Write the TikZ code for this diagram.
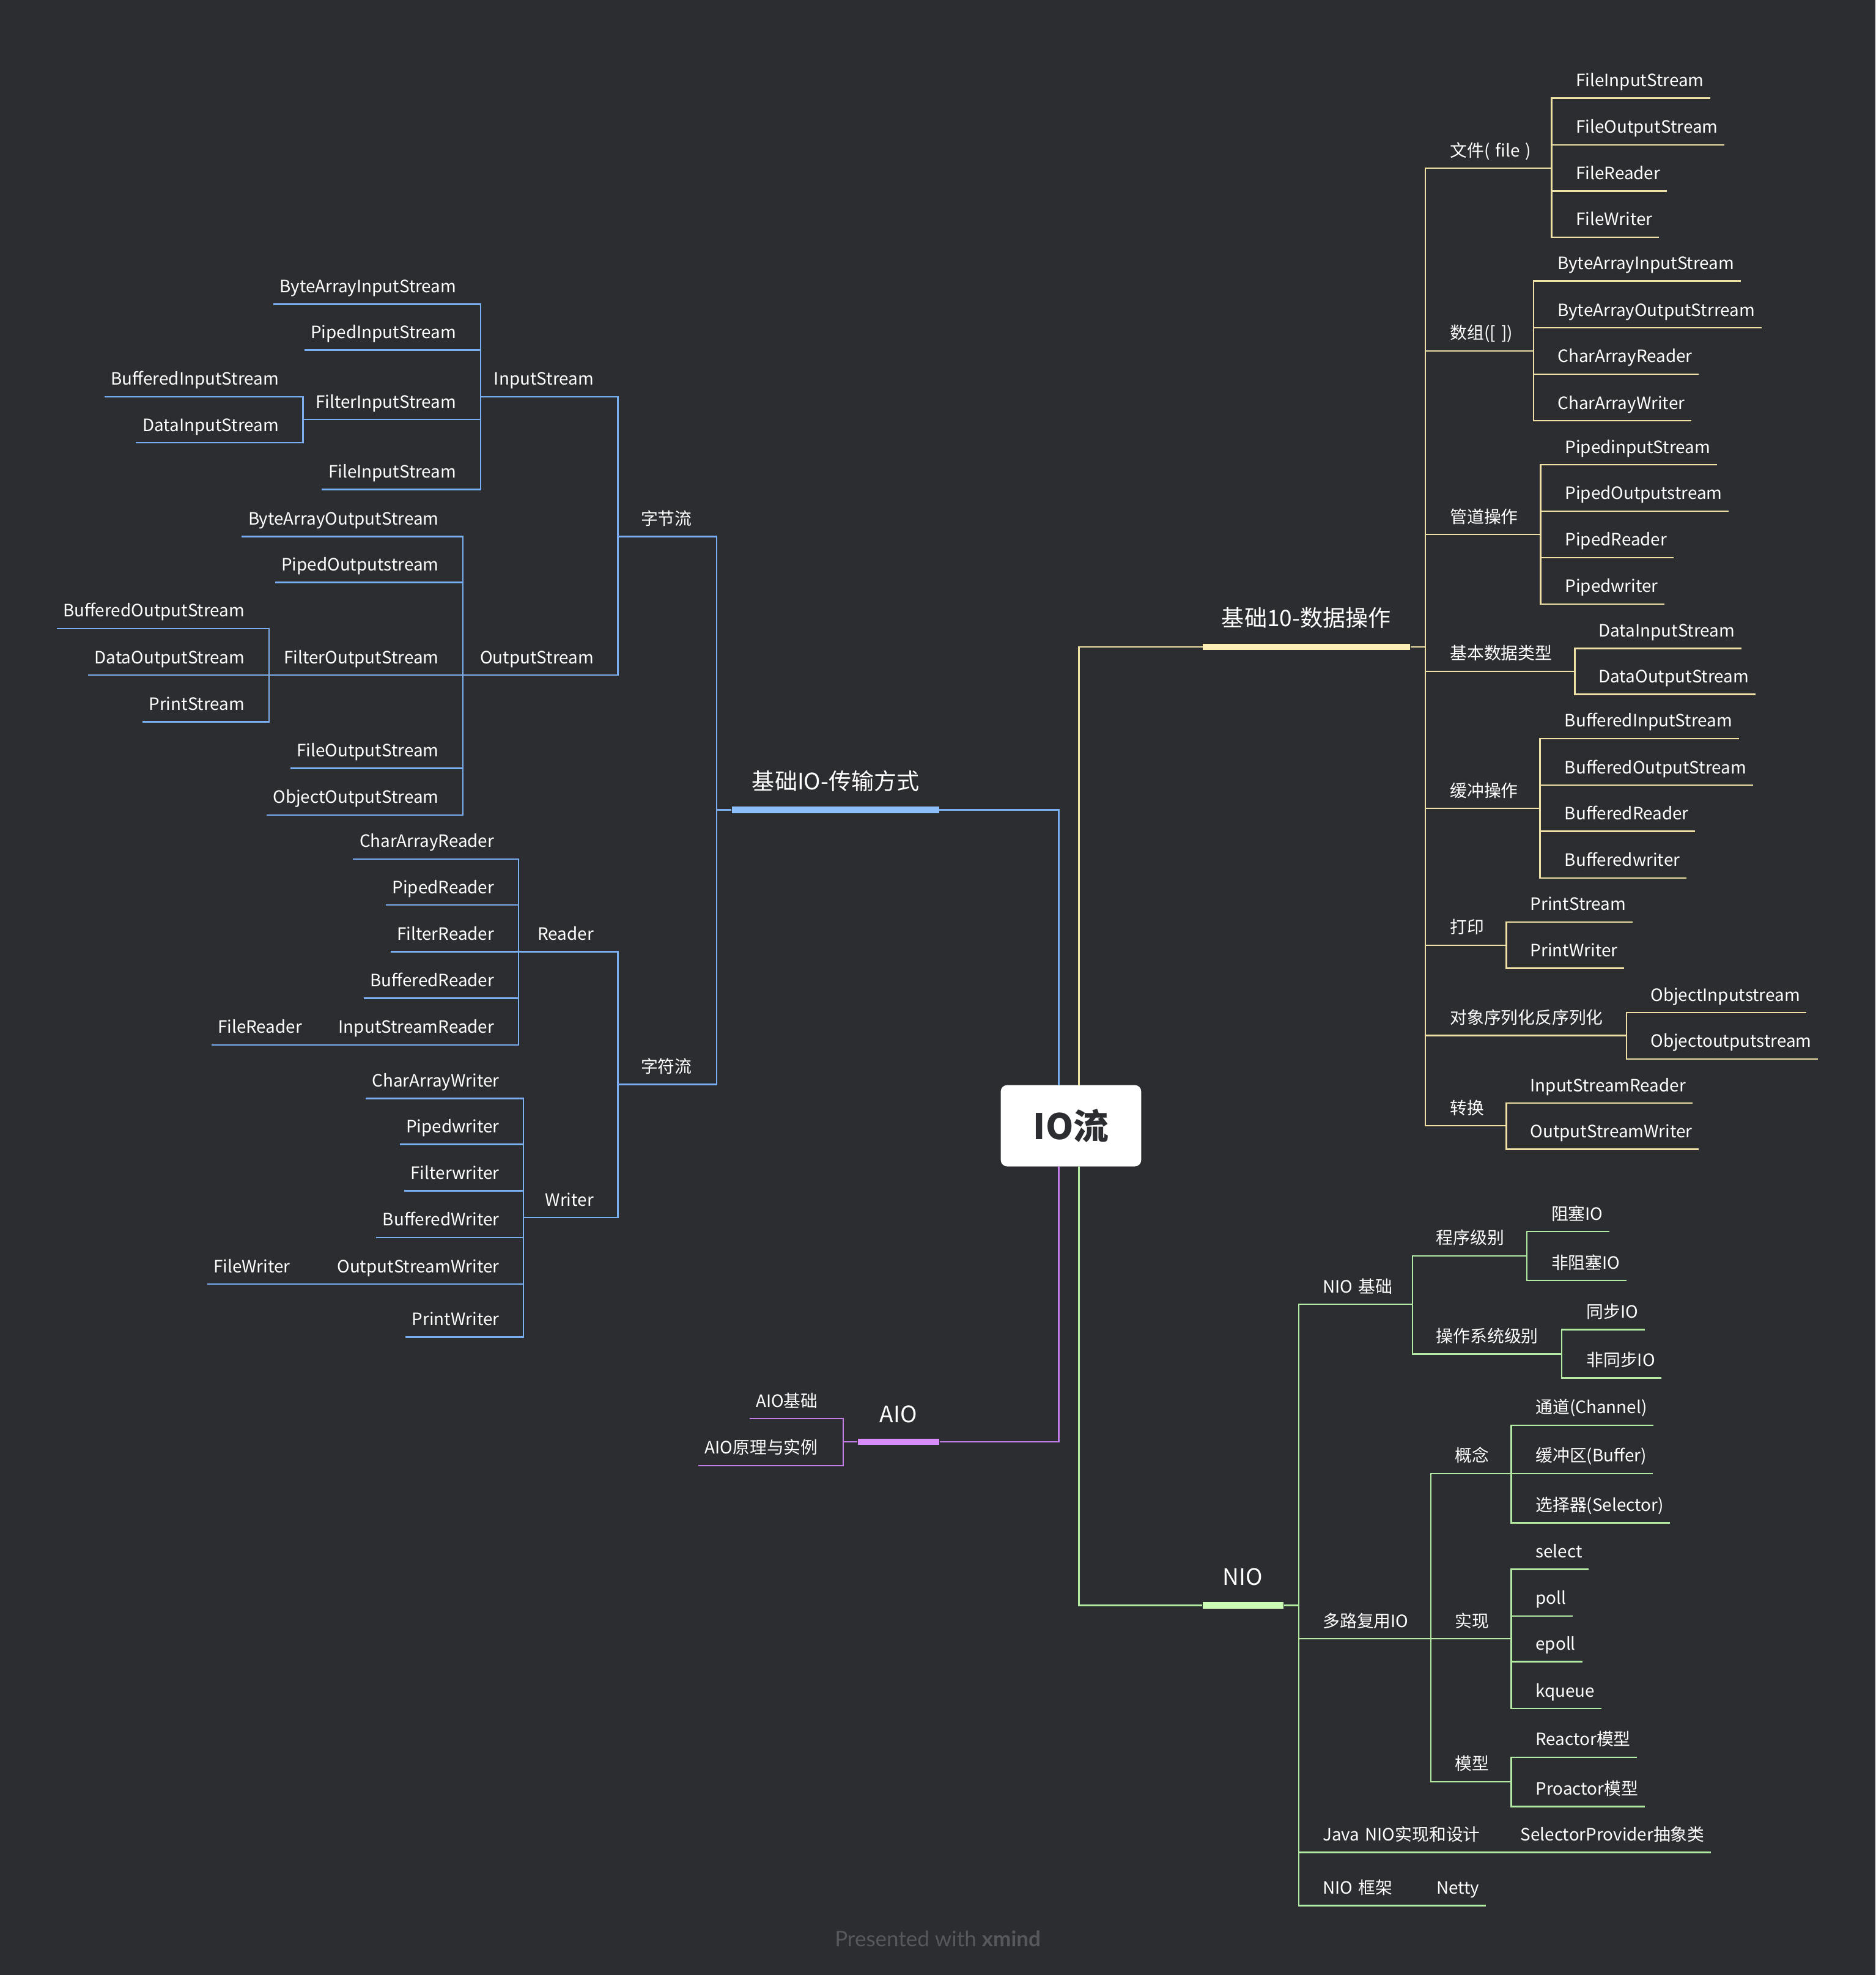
\documentclass[tikz,border=0pt]{standalone}
\usepackage{fontspec}
\setmainfont{Noto Sans CJK SC}
\newfontfamily\footfont{Lato}
\definecolor{bgc}{HTML}{2C2D31}
\definecolor{cblue}{HTML}{7AAEF0}
\definecolor{bbar}{HTML}{8CBEFA}
\definecolor{cyel}{HTML}{EFE1A6}
\definecolor{ybar}{HTML}{FFEFB3}
\definecolor{cpur}{HTML}{C37DE8}
\definecolor{pbar}{HTML}{D88CF7}
\definecolor{cgrn}{HTML}{B4EBA4}
\definecolor{gbar}{HTML}{C9FBB4}
\definecolor{footc}{HTML}{56585C}
\tikzset{
  lab/.style={text=white, font=\fontsize{13.5}{16}\selectfont, text depth=0pt, inner ysep=9pt, inner xsep=0pt},
  rleaf/.style={lab, anchor=south west, inner xsep=5pt},
  lleaf/.style={lab, anchor=south east, inner xsep=5pt},
  rtopic/.style={lab, anchor=south west, align=left, text width=#1},
  ltopic/.style={lab, anchor=south east, align=right, text width=#1},
  maintopic/.style={text=white, font=\fontsize{18}{20}\selectfont, anchor=base, inner sep=0pt},
  hbar/.style={minimum height=5pt, inner sep=0pt, minimum width=#1},
  centertopic/.style={fill=white, rounded corners=5pt, minimum width=111.5pt, minimum height=64.5pt, inner sep=0pt, text=bgc, font=\bfseries\fontsize{28}{30}\selectfont},
  bl/.style={draw=cblue, line width=1.2pt},
  yl/.style={draw=cyel, line width=1.2pt},
  pl/.style={draw=cpur, line width=1.2pt},
  gl/.style={draw=cgrn, line width=1.2pt},
}
\begin{document}
\begin{tikzpicture}[x=1pt,y=-1pt]
\fill[bgc] (0,0) rectangle (1489,1568);

% ---------- centre ----------
\node[centertopic] (ctr) at (850.25,893.75) {IO流};
\coordinate (cbt) at (840.5,861.5);
\coordinate (cyt) at (856.5,861.5);
\coordinate (cpb) at (840.5,926);
\coordinate (cgb) at (856.5,926);

% ---------- blue: 基础IO-传输方式 ----------
\coordinate (bioL) at (569,643);
\node[hbar=164.5pt, fill=bbar] (bioBar) at (663.25,643) {};
\node[maintopic] (bio) at (663.5,627) {基础IO-传输方式};

\node[ltopic=58.5pt] (zjl) at (549.5,426) {字节流};
\node[ltopic=58.5pt] (zfl) at (549.5,861) {字符流};
\node[ltopic=89.5pt] (is) at (471.5,315) {InputStream};
\node[ltopic=103.5pt] (os) at (471.5,536) {OutputStream};

\node[lleaf] (is1) at (367.5,241.5) {ByteArrayInputStream};
\node[lleaf] (is2) at (367.5,278) {PipedInputStream};
\node[ltopic=121.5pt] (is3) at (362.5,333) {FilterInputStream};
\node[lleaf] (is4) at (367.5,388.5) {FileInputStream};
\node[lleaf] (is31) at (226.5,315) {BufferedInputStream};
\node[lleaf] (is32) at (226.5,351.5) {DataInputStream};

\node[lleaf] (os1) at (353.5,426) {ByteArrayOutputStream};
\node[lleaf] (os2) at (353.5,462.5) {PipedOutputstream};
\node[ltopic=134.5pt] (os3) at (348.5,536) {FilterOutputStream};
\node[lleaf] (os4) at (353.5,610) {FileOutputStream};
\node[lleaf] (os5) at (353.5,647) {ObjectOutputStream};
\node[lleaf] (os31) at (199.5,499) {BufferedOutputStream};
\node[lleaf] (os32) at (199.5,536) {DataOutputStream};
\node[lleaf] (os33) at (199.5,573) {PrintStream};

\node[ltopic=59.5pt] (rd) at (471.5,755.5) {Reader};
\node[lleaf] (rd1) at (397.5,682) {CharArrayReader};
\node[lleaf] (rd2) at (397.5,718.5) {PipedReader};
\node[lleaf] (rd3) at (397.5,755.5) {FilterReader};
\node[lleaf] (rd4) at (397.5,792.5) {BufferedReader};
\node[ltopic=132.5pt] (rd5) at (392.5,829.5) {InputStreamReader};
\node[lleaf] (rd51) at (245,829.5) {FileReader};

\node[ltopic=55.5pt] (wr) at (471.5,966.5) {Writer};
\node[lleaf] (wr1) at (401.5,872) {CharArrayWriter};
\node[lleaf] (wr2) at (401.5,908.5) {Pipedwriter};
\node[lleaf] (wr3) at (401.5,945.5) {Filterwriter};
\node[lleaf] (wr4) at (401.5,982.5) {BufferedWriter};
\node[ltopic=146.5pt] (wr5) at (396.5,1019.5) {OutputStreamWriter};
\node[lleaf] (wr51) at (235.5,1019.5) {FileWriter};
\node[lleaf] (wr6) at (401.5,1061.5) {PrintWriter};

\draw[bl] (cbt) |- (bioBar.east);
\draw[bl] (bioBar.west) -- (bioL);
\foreach \c in {zjl,zfl} \draw[bl] (\c.south west) -| (bioL);
\foreach \c in {is,os} \draw[bl] (\c.south west) -| (zjl.south west);
\foreach \c in {rd,wr} \draw[bl] (\c.south west) -| (zfl.south west);
\foreach \c in {is1,is2,is3,is4} \draw[bl] (\c.south west) -| (is.south west);
\foreach \c in {is31,is32} \draw[bl] (\c.south west) -| (is3.south west);
\foreach \c in {os1,os2,os3,os4,os5} \draw[bl] (\c.south west) -| (os.south west);
\foreach \c in {os31,os32,os33} \draw[bl] (\c.south west) -| (os3.south west);
\foreach \c in {rd1,rd2,rd3,rd4,rd5} \draw[bl] (\c.south west) -| (rd.south west);
\draw[bl] (rd51.south west) -| (rd5.south west);
\foreach \c in {wr1,wr2,wr3,wr4,wr5,wr6} \draw[bl] (\c.south west) -| (wr.south west);
\draw[bl] (wr51.south west) -| (wr5.south west);

% ---------- yellow: 基础10-数据操作 ----------
\coordinate (dmR) at (1131.5,513.5);
\node[hbar=164.5pt, fill=ybar] (dmBar) at (1037.25,513.5) {};
\node[maintopic] (dm) at (1037,497.5) {基础10-数据操作};

\node[rtopic=80.3pt] (f) at (1151,133.5) {文件( file )};
\node[rleaf] (f1) at (1246,78) {FileInputStream};
\node[rleaf] (f2) at (1246,115) {FileOutputStream};
\node[rleaf] (f3) at (1246,151.6) {FileReader};
\node[rleaf] (f4) at (1246,188.3) {FileWriter};

\node[rtopic=66pt] (a) at (1151,278.6) {数组([ ])};
\node[rleaf] (a1) at (1231.5,223) {ByteArrayInputStream};
\node[rleaf] (a2) at (1231.5,260.2) {ByteArrayOutputStrream};
\node[rleaf] (a3) at (1231.5,297) {CharArrayReader};
\node[rleaf] (a4) at (1231.5,334) {CharArrayWriter};

\node[rtopic=71.7pt] (p) at (1151,424.3) {管道操作};
\node[rleaf] (p1) at (1237.3,369) {PipedinputStream};
\node[rleaf] (p2) at (1237.3,405.8) {PipedOutputstream};
\node[rleaf] (p3) at (1237.3,442.7) {PipedReader};
\node[rleaf] (p4) at (1237.3,479.5) {Pipedwriter};

\node[rtopic=98.8pt] (d) at (1151,532.9) {基本数据类型};
\node[rleaf] (d1) at (1264,514.8) {DataInputStream};
\node[rleaf] (d2) at (1264,551.3) {DataOutputStream};

\node[rtopic=71.3pt] (b) at (1151,641.8) {缓冲操作};
\node[rleaf] (b1) at (1237,586.3) {BufferedInputStream};
\node[rleaf] (b2) at (1237,623.3) {BufferedOutputStream};
\node[rleaf] (b3) at (1237,660) {BufferedReader};
\node[rleaf] (b4) at (1237,697) {Bufferedwriter};

\node[rtopic=44.6pt] (pr) at (1151,750.4) {打印};
\node[rleaf] (pr1) at (1209.7,732) {PrintStream};
\node[rleaf] (pr2) at (1209.7,768.8) {PrintWriter};

\node[rtopic=139.8pt] (ob) at (1151,822) {对象序列化反序列化};
\node[rleaf] (ob1) at (1305.2,803.9) {ObjectInputstream};
\node[rleaf] (ob2) at (1305.2,840.7) {Objectoutputstream};

\node[rtopic=44.6pt] (cv) at (1151,893.7) {转换};
\node[rleaf] (cv1) at (1209.7,875.8) {InputStreamReader};
\node[rleaf] (cv2) at (1209.7,912.5) {OutputStreamWriter};

\draw[yl] (cyt) |- (dmBar.west);
\draw[yl] (dmBar.east) -- (dmR);
\foreach \c in {f,a,p,d,b,pr,ob,cv} \draw[yl] (\c.south east) -| (dmR);
\foreach \c in {f1,f2,f3,f4} \draw[yl] (\c.south east) -| (f.south east);
\foreach \c in {a1,a2,a3,a4} \draw[yl] (\c.south east) -| (a.south east);
\foreach \c in {p1,p2,p3,p4} \draw[yl] (\c.south east) -| (p.south east);
\foreach \c in {d1,d2} \draw[yl] (\c.south east) -| (d.south east);
\foreach \c in {b1,b2,b3,b4} \draw[yl] (\c.south east) -| (b.south east);
\foreach \c in {pr1,pr2} \draw[yl] (\c.south east) -| (pr.south east);
\foreach \c in {ob1,ob2} \draw[yl] (\c.south east) -| (ob.south east);
\foreach \c in {cv1,cv2} \draw[yl] (\c.south east) -| (cv.south east);

% ---------- purple: AIO ----------
\coordinate (aioL) at (669.5,1144.6);
\node[hbar=64.8pt, fill=pbar] (aioBar) at (713.4,1144.6) {};
\node[maintopic] (aio) at (713.2,1129.2) {AIO};
\node[lleaf] (ai1) at (654.5,1126.3) {AIO基础};
\node[lleaf] (ai2) at (654.5,1163.5) {AIO原理与实例};
\draw[pl] (cpb) |- (aioBar.east);
\draw[pl] (aioBar.west) -- (aioL);
\foreach \c in {ai1,ai2} \draw[pl] (\c.south west) -| (aioL);

% ---------- green: NIO ----------
\coordinate (nioR) at (1031,1274.5);
\node[hbar=64.2pt, fill=gbar] (nioBar) at (986.9,1274.5) {};
\node[maintopic] (nio) at (986.6,1258.5) {NIO};

\node[rtopic=71pt] (n1) at (1050,1035.5) {NIO 基础};
\node[rtopic=71.7pt] (n11) at (1140,997) {程序级别};
\node[rleaf] (n111) at (1226.4,977.8) {阻塞IO};
\node[rleaf] (n112) at (1226.4,1016.5) {非阻塞IO};
\node[rtopic=99.5pt] (n12) at (1140,1075) {操作系统级别};
\node[rleaf] (n121) at (1254.3,1055.6) {同步IO};
\node[rleaf] (n122) at (1254.3,1094) {非同步IO};

\node[rtopic=85.5pt] (n2) at (1050,1301) {多路复用IO};
\node[rtopic=44.4pt] (n21) at (1155,1169.8) {概念};
\node[rleaf] (n211) at (1214,1131.5) {通道(Channel)};
\node[rleaf] (n212) at (1214,1169.8) {缓冲区(Buffer)};
\node[rleaf] (n213) at (1214,1208.9) {选择器(Selector)};
\node[rtopic=44.4pt] (n22) at (1155,1301) {实现};
\node[rleaf] (n221) at (1214,1245.8) {select};
\node[rleaf] (n222) at (1214,1282.9) {poll};
\node[rleaf] (n223) at (1214,1319.2) {epoll};
\node[rleaf] (n224) at (1214,1356.4) {kqueue};
\node[rtopic=44.4pt] (n23) at (1155,1414.5) {模型};
\node[rleaf] (n231) at (1214,1395.1) {Reactor模型};
\node[rleaf] (n232) at (1214,1434.2) {Proactor模型};

\node[rtopic=137pt] (n3) at (1050,1470.7) {Java NIO实现和设计};
\node[rleaf] (n31) at (1202,1470.7) {SelectorProvider抽象类};
\node[rtopic=70pt] (n4) at (1050,1512.8) {NIO 框架};
\node[rleaf] (n41) at (1135.2,1512.8) {Netty};

\draw[gl] (cgb) |- (nioBar.west);
\draw[gl] (nioBar.east) -- (nioR);
\foreach \c in {n1,n2,n3,n4} \draw[gl] (\c.south east) -| (nioR);
\foreach \c in {n11,n12} \draw[gl] (\c.south east) -| (n1.south east);
\foreach \c in {n111,n112} \draw[gl] (\c.south east) -| (n11.south east);
\foreach \c in {n121,n122} \draw[gl] (\c.south east) -| (n12.south east);
\foreach \c in {n21,n22,n23} \draw[gl] (\c.south east) -| (n2.south east);
\foreach \c in {n211,n212,n213} \draw[gl] (\c.south east) -| (n21.south east);
\foreach \c in {n221,n222,n223,n224} \draw[gl] (\c.south east) -| (n22.south east);
\foreach \c in {n231,n232} \draw[gl] (\c.south east) -| (n23.south east);
\draw[gl] (n31.south east) -| (n3.south east);
\draw[gl] (n41.south east) -| (n4.south east);

% ---------- footer ----------
\node[font=\footfont\fontsize{17}{20}\selectfont, text=footc, anchor=base, inner sep=0pt] (foot) at (744.5,1545.4) {Presented with \textbf{xmind}};
\end{tikzpicture}
\end{document}
